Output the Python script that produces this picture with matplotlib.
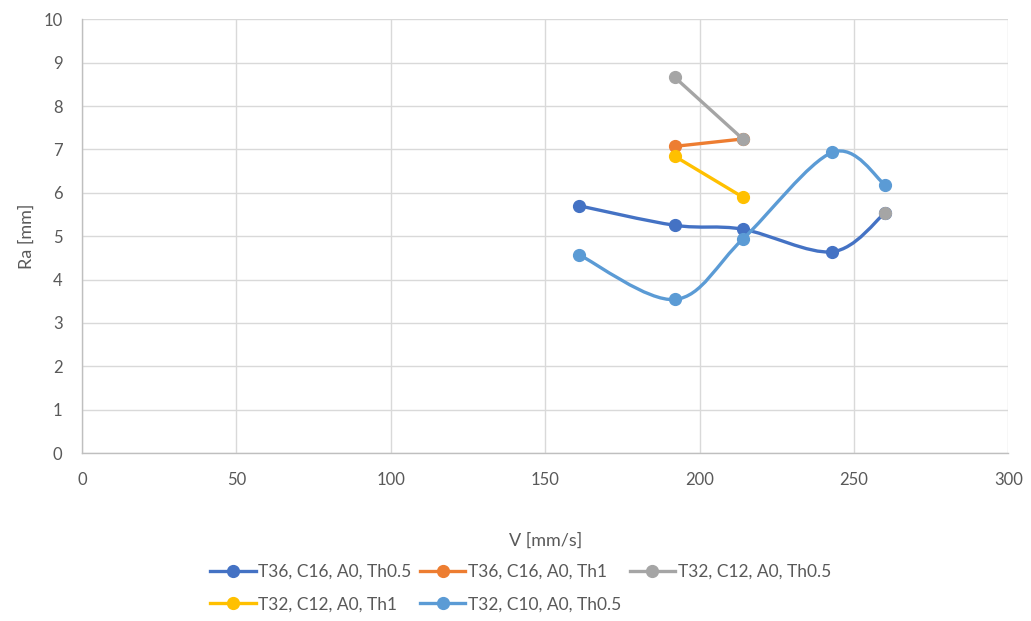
import matplotlib.pyplot as plt
import numpy as np
from matplotlib.path import Path
from matplotlib.patches import PathPatch
from matplotlib.lines import Line2D

plt.rcParams["font.family"] = ["Lato", "DejaVu Sans"]

# V [mm/s] values shared by all series (NaN = no reading)
V = [161, 192, 214, 243, 260]

SERIES_NAMES = [
    "T36, C16, A0, Th0.5",
    "T36, C16, A0, Th1",
    "T32, C12, A0, Th0.5",
    "T32, C12, A0, Th1",
    "T32, C10, A0, Th0.5",
]
T36_C16_TH05 = [5.70, 5.25, 5.16, 4.64, 5.53]
T36_C16_TH1 = [np.nan, 7.07, 7.24, np.nan, np.nan]
T32_C12_TH05 = [np.nan, 8.66, 7.24, np.nan, 5.53]
T32_C12_TH1 = [np.nan, 6.84, 5.90, np.nan, np.nan]
T32_C10_TH05 = [4.57, 3.54, 4.93, 6.93, 6.19]

COLORS = ["#4472C4", "#ED7D31", "#A5A5A5", "#FFC000", "#5B9BD5"]


def smooth_path(xs, ys):
    """Excel-like smoothed line: Catmull-Rom as cubic Bezier segments."""
    pts = np.column_stack([xs, ys])
    verts = [pts[0]]
    codes = [Path.MOVETO]
    n = len(pts)
    for i in range(n - 1):
        p0 = pts[i - 1] if i > 0 else pts[i]
        p1, p2 = pts[i], pts[i + 1]
        p3 = pts[i + 2] if i + 2 < n else pts[i + 1]
        c1 = p1 + (p2 - p0) / 6.0
        c2 = p2 - (p3 - p1) / 6.0
        verts += [c1, c2, p2]
        codes += [Path.CURVE4] * 3
    return Path(verts, codes)


def runs(xs, ys):
    """Split a series into runs of consecutive non-NaN points."""
    out, cur = [], []
    for x, y in zip(xs, ys):
        if np.isnan(y):
            if cur:
                out.append(cur)
            cur = []
        else:
            cur.append((x, y))
    if cur:
        out.append(cur)
    return out


fig = plt.figure(figsize=(10.31, 6.21), dpi=100)
ax = fig.add_axes([0.0795, 0.2705, 0.8985, 0.6985])

all_series = [T36_C16_TH05, T36_C16_TH1, T32_C12_TH05, T32_C12_TH1, T32_C10_TH05]
handles = []
for k, (name, ys, col) in enumerate(zip(SERIES_NAMES, all_series, COLORS)):
    for run in runs(V, ys):
        rx = [p[0] for p in run]
        ry = [p[1] for p in run]
        if len(run) > 1:
            ax.add_patch(PathPatch(smooth_path(rx, ry), facecolor="none",
                                   edgecolor=col, linewidth=2.4, zorder=2 + k,
                                   capstyle="round"))
        ax.plot(rx, ry, linestyle="none", marker="o", markersize=8.5,
                color=col, zorder=2 + k)
    handles.append(Line2D([], [], color=col, linewidth=2.4, marker="o",
                          markersize=8.5))

ax.set_xlim(0, 300)
ax.set_ylim(0, 10)
ax.set_xticks(np.arange(0, 301, 50))
ax.set_yticks(np.arange(0, 11, 1))
ax.grid(color="#D9D9D9", linewidth=1.0)
ax.set_axisbelow(True)
for s in ["top", "right"]:
    ax.spines[s].set_visible(False)
for s in ["left", "bottom"]:
    ax.spines[s].set_color("#BFBFBF")
    ax.spines[s].set_linewidth(1.0)
ax.tick_params(axis="x", length=0, labelsize=12, colors="#595959", pad=14)
ax.tick_params(axis="y", length=0, labelsize=12, colors="#595959", pad=14)
ax.set_xlabel("V [mm/s]", fontsize=13, color="#595959", labelpad=32)
ax.set_ylabel("Ra [mm]", fontsize=13, color="#595959", labelpad=6)

# order so the column-major legend reads row by row
order = [0, 3, 1, 4, 2]
fig.legend([handles[i] for i in order], [SERIES_NAMES[i] for i in order],
           loc="center", bbox_to_anchor=(0.505, 0.053), ncol=3, frameon=False,
           fontsize=12.5, handlelength=2.6, handletextpad=0.15, columnspacing=0.5,
           labelspacing=0.95, labelcolor="#595959")

fig.savefig("out.png", dpi=100)
